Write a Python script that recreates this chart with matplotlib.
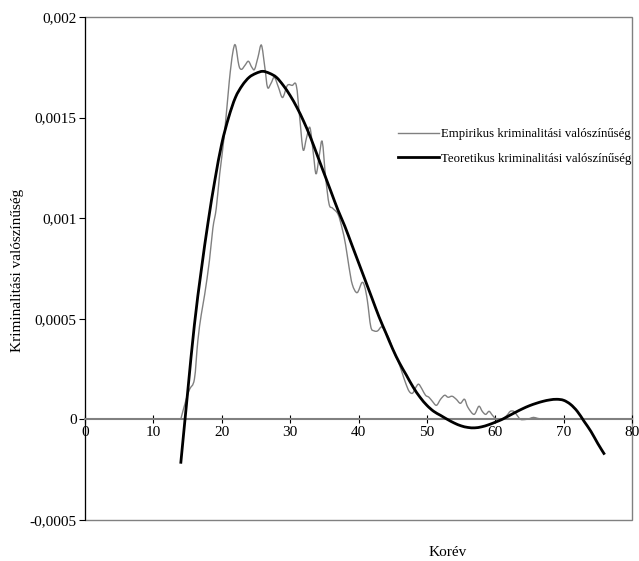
import matplotlib
matplotlib.use("Agg")
import matplotlib.pyplot as plt
from matplotlib.patches import Rectangle, PathPatch
from matplotlib.path import Path
from matplotlib.lines import Line2D

plt.rcParams['font.family'] = ['Liberation Serif', 'DejaVu Serif']

emp_age = [14.0, 14.8, 15.3, 16.0, 16.5, 17.0, 17.5, 18.2, 18.7, 19.2, 19.7, 20.4, 21.1, 21.6,
           22.0, 22.5, 22.9, 23.4, 23.9, 24.4, 24.8, 25.3, 25.8, 26.3, 26.7, 27.2, 27.7, 28.3,
           28.9, 29.6, 30.3, 30.9, 31.4, 31.9, 32.4, 32.9, 33.4, 33.8, 34.3, 34.7, 35.2, 35.7,
           36.2, 37.0, 37.6, 38.1, 38.6, 39.1, 39.8, 40.5, 40.9, 41.3, 41.8, 42.3, 42.8, 43.4,
           44.0, 44.5, 45.0, 45.5, 45.9, 46.4, 46.9, 47.4, 47.9, 48.4, 48.8, 49.3, 49.8, 50.3,
           50.8, 51.4, 52.0, 52.6, 53.1, 53.7, 54.3, 54.9, 55.5, 56.0, 56.9, 57.6, 58.1, 58.6,
           59.1, 59.6, 60.2, 61.0, 61.7, 62.2, 62.7, 63.2, 63.7, 64.5, 65.1, 65.6, 66.2, 67.0]
emp_val = [0.0, 0.0001, 0.00015, 0.0002, 0.00039, 0.00052, 0.00062, 0.00079, 0.00095, 0.00105,
           0.00122, 0.00142, 0.00168, 0.00182, 0.00186, 0.00176, 0.00174, 0.00176, 0.00178,
           0.00175, 0.00174, 0.0018, 0.00186, 0.00175, 0.00165, 0.00167, 0.0017, 0.00165,
           0.0016, 0.00166, 0.00166, 0.00166, 0.0015, 0.00134, 0.0014, 0.00145, 0.00132,
           0.00122, 0.00132, 0.00138, 0.0012, 0.00107, 0.00105, 0.00102, 0.00095, 0.00087,
           0.00076, 0.00067, 0.00063, 0.00068, 0.00066, 0.00059, 0.00046, 0.00044, 0.00044,
           0.00046, 0.00043, 0.0004, 0.00035, 0.00031, 0.00028, 0.00023, 0.00018, 0.00014,
           0.00013, 0.00016, 0.000175, 0.00015, 0.00012, 0.00011, 0.00009, 0.00007, 0.0001,
           0.00012, 0.00011, 0.000115, 0.0001, 0.00008, 0.0001, 0.00006, 0.000025, 0.000065,
           0.00004, 0.000025, 0.00004, 0.00002, 0.0, 0.0, 0.00002, 0.00004, 0.00004, 0.00002,
           0.0, 0.0, 0.000005, 0.00001, 0.000005, 0.0]

# Theoretical criminality probability
theo_age = list(range(14, 77))
theo_val = [-0.00022, 0.00013, 0.00047, 0.00074, 0.00098, 0.00119, 0.00137, 0.0015, 0.0016,
            0.00166, 0.0017, 0.00172, 0.00173, 0.00172, 0.0017, 0.00166, 0.00161, 0.00155,
            0.00148, 0.0014, 0.00131, 0.00122, 0.00113, 0.00104, 0.00096, 0.00087, 0.00078,
            0.00069, 0.0006, 0.00051, 0.00043, 0.00035, 0.00028, 0.00022, 0.00016, 0.00011,
            0.00007, 0.00004, 0.00002, 0.0, -0.000018, -0.000032, -0.00004, -0.000042,
            -0.000037, -0.000027, -0.000014, 0.0, 0.000018, 0.000036, 0.000053, 0.000068,
            0.00008, 0.00009, 0.000097, 0.0001, 0.000095, 0.000075, 0.00004, -0.00001,
            -0.00006, -0.00012, -0.000175]

x_ticks = [0, 10, 20, 30, 40, 50, 60, 70, 80]
y_ticks = [-0.0005, 0, 0.0005, 0.001, 0.0015, 0.002]
y_ticklabels = ["-0,0005", "0", "0,0005", "0,001", "0,0015", "0,002"]


def smooth_path(xs, ys, t=1/6):
    """Smoothed-line rendering (like a spreadsheet 'smoothed line'): cubic Bezier
    segments through the given points, drawn as a matplotlib Path."""
    verts = [(xs[0], ys[0])]
    codes = [Path.MOVETO]
    n = len(xs)
    for i in range(n - 1):
        x0, y0 = (xs[i - 1], ys[i - 1]) if i > 0 else (xs[i], ys[i])
        x1, y1 = xs[i], ys[i]
        x2, y2 = xs[i + 1], ys[i + 1]
        x3, y3 = (xs[i + 2], ys[i + 2]) if i + 2 < n else (x2, y2)
        c1 = (x1 + (x2 - x0) * t, y1 + (y2 - y0) * t)
        c2 = (x2 - (x3 - x1) * t, y2 - (y3 - y1) * t)
        verts += [c1, c2, (x2, y2)]
        codes += [Path.CURVE4] * 3
    return Path(verts, codes)


fig = plt.figure(figsize=(6.39, 5.61), dpi=100)
ax = fig.add_axes([85/639, 41/561, 547/639, 503/561])

ax.add_patch(PathPatch(smooth_path(emp_age, emp_val), fill=False, edgecolor='#808080',
                       lw=1.0, zorder=3))
ax.add_patch(PathPatch(smooth_path(theo_age, theo_val), fill=False, edgecolor='black',
                       lw=2.0, zorder=4, capstyle='butt'))

ax.set_xlim(0, 80)
ax.set_ylim(-0.0005, 0.002)
ax.set_xticks(x_ticks)
ax.set_xticklabels([str(t) for t in x_ticks])
ax.set_yticks(y_ticks)
ax.set_yticklabels(y_ticklabels)

for s in ['top', 'right']:
    ax.spines[s].set_visible(False)
ax.spines['left'].set_color('black')
ax.spines['bottom'].set_position(('data', 0))
ax.spines['bottom'].set_color('#808080')
ax.spines['bottom'].set_linewidth(1.5)

ax.add_patch(Rectangle((0, 0), 1, 1, transform=ax.transAxes, fill=False,
                       edgecolor='#808080', lw=1.0, clip_on=False, zorder=1))

ax.tick_params(axis='x', direction='inout', length=6, labelsize=11, pad=2, color='black')
ax.tick_params(axis='y', direction='out', length=4, labelsize=11, pad=2)

handles = [Line2D([], [], color='#808080', lw=1.0),
           Line2D([], [], color='black', lw=2.0)]
labels = ['Empirikus kriminalitási valószínűség', 'Teoretikus kriminalitási valószínűség']
ax.legend(handles, labels, loc='upper left', bbox_to_anchor=(313/547, 1 - 111/503),
          frameon=False, fontsize=9.2, handlelength=3.2, handletextpad=0.2,
          labelspacing=1.0, borderaxespad=0, borderpad=0)

fig.text(448/639, 1 - 552/561, 'Korév', ha='center', va='center', fontsize=11)
fig.text(18/639, 1 - 270/561, 'Kriminalitási valószínűség', ha='center', va='center',
         rotation=90, fontsize=11)

fig.savefig('out.png', dpi=100)
